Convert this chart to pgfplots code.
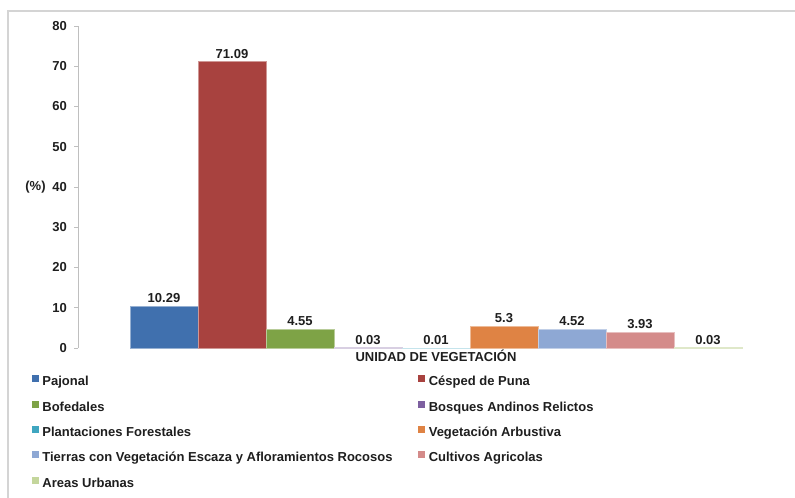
\documentclass[border=0pt]{standalone}
\usepackage{pgfplots}
\pgfplotsset{compat=1.18}
\usepackage{fontspec}
\setmainfont{Liberation Sans}
\definecolor{c1}{HTML}{4070AE}
\definecolor{c2}{HTML}{A8423F}
\definecolor{c3}{HTML}{7EA346}
\definecolor{c4}{HTML}{7D60A0}
\definecolor{c5}{HTML}{3FA6C0}
\definecolor{c6}{HTML}{DF8344}
\definecolor{c7}{HTML}{8EA8D4}
\definecolor{c8}{HTML}{D48B8A}
\definecolor{c9}{HTML}{C4D69C}
\definecolor{framegray}{HTML}{D4D4D4}
\definecolor{axisgray}{HTML}{BFBFBF}
\definecolor{txt}{HTML}{1E1E1E}
\newcommand{\lf}{\bfseries\fontsize{13bp}{15bp}\selectfont}
\begin{document}
\begin{tikzpicture}[x=1bp,y=1bp]
\path[use as bounding box] (0,0) rectangle (795,498);
\draw[color=framegray, line width=1.5bp] (8,0) -- (8,487) -- (795,487);
\begin{axis}[
  at={(78bp,150bp)}, anchor=south west,
  scale only axis, width=667bp, height=322bp,
  xmin=-1.2647, xmax=8.544, ymin=0, ymax=80,
  ytick={0,10,...,80},
  axis x line=none, axis y line*=left,
  y axis line style={draw=axisgray, line width=0.8bp},
  ytick style={draw=axisgray, line width=0.8bp},
  tick align=outside, major tick length=4bp,
  yticklabel style={font=\lf, text=txt, inner sep=0pt, xshift=-7bp},
  /pgf/number format/assume math mode=true,
  xtick=\empty,
  ybar, bar width=1, bar shift=0pt,
  point meta=explicit symbolic,
  nodes near coords,
  nodes near coords style={font=\lf, text=txt},
  ylabel={(\%)},
  every axis y label/.style={at={(axis description cs:-0.0637,0.5)}, anchor=center, font=\lf, text=txt},
  legend columns=2,
  legend cell align=left,
  legend style={at={(axis description cs:-0.06897,-0.08478)}, anchor=north west, draw=none, fill=none, inner sep=0pt, outer sep=0pt, font=\lf, text=txt, row sep=11.9bp, column sep=0pt, nodes={inner sep=0pt, text height=9bp, text depth=3bp}},
  legend image code/.code={\fill[#1, draw=none] (0bp,0.5bp) rectangle (7bp,7.5bp); \path (10bp,0bp);},
  clip=false,
]
\addplot[fill=c1, draw=c1!55!white, line width=0.8bp] coordinates {(0,10.29) [10.29]};
\addlegendentry{\makebox[376bp][l]{Pajonal}}
\addplot[fill=c2, draw=c2!55!white, line width=0.8bp] coordinates {(1,71.09) [71.09]};
\addlegendentry{Césped de Puna}
\addplot[fill=c3, draw=c3!55!white, line width=0.8bp] coordinates {(2,4.55) [4.55]};
\addlegendentry{\makebox[376bp][l]{Bofedales}}
\addplot[fill=c4, draw=c4!30!white, line width=0.8bp] coordinates {(3,0.03) [0.03]};
\addlegendentry{Bosques Andinos Relictos}
\addplot[fill=c5, draw=c5!30!white, line width=0.8bp] coordinates {(4,0.01) [0.01]};
\addlegendentry{\makebox[376bp][l]{Plantaciones Forestales}}
\addplot[fill=c6, draw=c6!55!white, line width=0.8bp] coordinates {(5,5.3) [5.3]};
\addlegendentry{Vegetación Arbustiva}
\addplot[fill=c7, draw=c7!55!white, line width=0.8bp] coordinates {(6,4.52) [4.52]};
\addlegendentry{\makebox[376bp][l]{Tierras con Vegetación Escaza y Afloramientos Rocosos}}
\addplot[fill=c8, draw=c8!55!white, line width=0.8bp] coordinates {(7,3.93) [3.93]};
\addlegendentry{Cultivos Agricolas}
\addplot[fill=c9, draw=c9!55!white, line width=0.8bp] coordinates {(8,0.03) [0.03]};
\addlegendentry{\makebox[376bp][l]{Areas Urbanas}}
\node[font=\lf, text=txt, anchor=center] at (axis description cs:0.5367,-0.0248) {UNIDAD DE VEGETACIÓN};
\end{axis}
\end{tikzpicture}
\end{document}
